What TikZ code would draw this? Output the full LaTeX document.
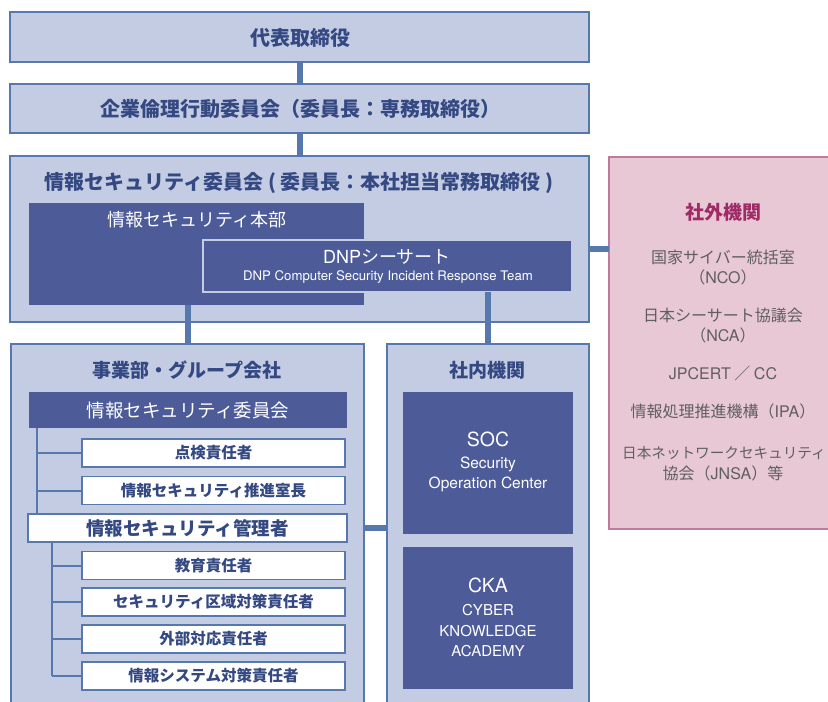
\documentclass[tikz,border=0pt]{standalone}
\usepackage{fontspec}
\setmainfont{Noto Sans CJK JP}
\newfontfamily\latfont{TeX Gyre Heros}
\usetikzlibrary{positioning,calc}
\definecolor{boxfill}{RGB}{196,204,228}
\definecolor{boxline}{RGB}{86,120,172}
\definecolor{darkfill}{RGB}{77,92,152}
\definecolor{headtext}{RGB}{52,72,130}
\definecolor{extfill}{RGB}{232,200,212}
\definecolor{extline}{RGB}{192,122,156}
\definecolor{exthead}{RGB}{158,42,102}
\definecolor{exttext}{RGB}{95,95,95}
\newcommand{\fsz}[1]{\fontsize{#1}{#1}\selectfont}

\begin{document}
\begin{tikzpicture}[x=1pt, y=-1pt,
        every node/.style={inner sep=0pt, outer sep=0pt},
        lbox/.style={rectangle, draw=boxline, fill=boxfill, line width=1.5pt},
        dbox/.style={rectangle, fill=darkfill},
        wbox/.style={rectangle, draw=boxline, fill=white, line width=1.5pt,
          minimum width=263, minimum height=28, text=headtext, font=\bfseries\fsz{15.5}},
        ebox/.style={rectangle, draw=extline, fill=extfill, line width=1.5pt},
        link/.style={draw=boxline, line width=6pt},
        tree/.style={draw=boxline, line width=2pt},
        head/.style={text=headtext, font=\bfseries\fsz{20}},
        subhead/.style={text=headtext, font=\bfseries\fsz{19}},
        wtext/.style={text=white},
        etext/.style={text=exttext, font=\fsz{16}}
      ]
        % Rahmen
        \useasboundingbox (0,0) rectangle (828,702);
        \clip (0,0) rectangle (828,702);

        % Leitung
        \node[lbox, minimum width=579, minimum height=50] (ceo) at (299.5,37) {};
        \node[head] (ceo-t) at (300,38) {代表取締役};
        \node[lbox, minimum width=579, minimum height=49] (eth) at (299.5,108.5) {};
        \node[head] (eth-t) at (300,109) {企業倫理行動委員会（委員長：専務取締役）};

        % Informationssicherheitsausschuss
        \node[lbox, minimum width=579, minimum height=166] (isc) at (299.5,239) {};
        \node[head] (isc-t) at (299,183) {情報セキュリティ委員会 ( 委員長：本社担当常務取締役 )};
        \node[dbox, minimum width=335, minimum height=102] (honbu) at (196.5,254) {};
        \node[wtext, font=\fsz{18}] (honbu-t) at (197,220) {情報セキュリティ本部};
        \node[dbox, draw=boxfill, line width=1.5pt, minimum width=369, minimum height=52] (dnp) at (387.5,266) {};
        \node[wtext, font=\fsz{18}] (dnp-t) at (387,257) {{\latfont DNP}シーサート};
        \node[wtext, font=\latfont\fsz{13.2}] (dnp-s) at (388,277) {DNP Computer Security Incident Response Team};

        % externe Stellen
        \node[ebox, minimum width=251, minimum height=372] (ext) at (734.5,343) {};
        \node[text=exthead, font=\bfseries\fsz{19}] (ext-t) at (723,212) {社外機関};
        \foreach \name/\yy/\txt in {nisc/257/国家サイバー統括室, nisc2/277/（{\latfont NCO}）,
            nca/315/日本シーサート協議会, nca2/335/（{\latfont NCA}）,
            jpcert/373/{\latfont JPCERT} ／ {\latfont CC},
            ipa/411/情報処理推進機構（{\latfont IPA}）, jnsa2/473/協会（{\latfont JNSA}）等} {
          \node[etext] (\name) at (723,\yy) {\txt};
        }
        \node[etext, font=\fsz{14.6}] (jnsa) at (724,453) {日本ネットワークセキュリティ};

        % Geschaeftsbereiche
        \node[lbox, minimum width=353, minimum height=376] (div) at (187.5,532) {};
        \node[subhead] (div-t) at (187,370) {事業部・グループ会社};
        \node[dbox, minimum width=318, minimum height=36, wtext, font=\fsz{18.5}] (dcom) at (188,410) {情報セキュリティ委員会};
        \node[wbox] (chk) at (213.5,453) {点検責任者};
        \node[wbox] (prm) at (213.5,490.5) {情報セキュリティ推進室長};
        \node[wbox, minimum width=319, font=\bfseries\fsz{18.5}] (mgr) at (187.5,528) {情報セキュリティ管理者};
        \node[wbox] (edu) at (213.5,565.5) {教育責任者};
        \node[wbox] (area) at (213.5,602) {セキュリティ区域対策責任者};
        \node[wbox] (pr) at (213.5,639) {外部対応責任者};
        \node[wbox] (sys) at (213.5,676) {情報システム対策責任者};

        % interne Stellen
        \node[lbox, minimum width=202, minimum height=376] (inner) at (488,532) {};
        \node[subhead] (inner-t) at (487,370) {社内機関};
        \node[dbox, minimum width=170, minimum height=142] (soc) at (488,463) {};
        \node[wtext, font=\latfont\fsz{19.5}] (soc-t) at (488,439) {SOC};
        \node[wtext, font=\latfont\fsz{15.5}] (soc-s1) at (488,464) {Security};
        \node[wtext, font=\latfont\fsz{15.5}] (soc-s2) at (488,484) {Operation Center};
        \node[dbox, minimum width=170, minimum height=142] (cka) at (488,618) {};
        \node[wtext, font=\latfont\fsz{19.5}] (cka-t) at (488,585) {CKA};
        \foreach \name/\yy/\txt in {cka-s1/610/CYBER, cka-s2/631/KNOWLEDGE, cka-s3/651/ACADEMY} {
          \node[wtext, font=\latfont\fsz{15}] (\name) at (488,\yy) {\txt};
        }

        % Baumlinien
        \coordinate (t1) at (37,0);
        \coordinate (t2) at (52,0);
        \draw[tree] (dcom.south -| t1) -- (mgr.north -| t1);
        \foreach \n in {chk,prm} {\draw[tree] (\n.west -| t1) -- (\n.west);}
        \draw[tree] (mgr.south -| t2) -- (sys.west -| t2);
        \foreach \n in {edu,area,pr,sys} {\draw[tree] (\n.west -| t2) -- (\n.west);}

        % Verbindungen
        \coordinate (cx) at (0,249);
        \draw[link] (ceo.south) -- (eth.north);
        \draw[link] (eth.south) -- (isc.north);
        \draw[link] (div.north |- honbu.south) -- (div.north);
        \draw[link] (inner.north |- dnp.south) -- (inner.north);
        \draw[link] (isc.east |- cx) -- (ext.west |- cx);
        \draw[link] (div.east |- mgr) -- (inner.west |- mgr);
      \end{tikzpicture}
\end{document}
